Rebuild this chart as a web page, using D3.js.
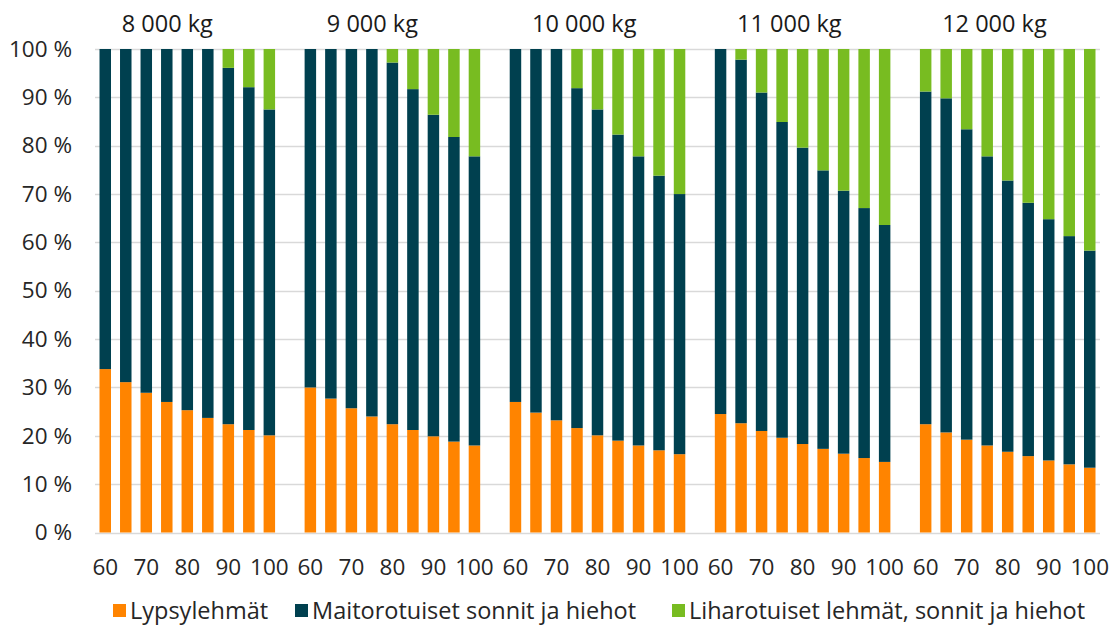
<!DOCTYPE html>
<html><head><meta charset="utf-8">
<script src="https://cdn.jsdelivr.net/npm/d3@7"></script>
<style>
body{margin:0;background:#fff;}
svg{font-family:"Open Sans","Noto Sans",sans-serif;}
</style></head>
<body><svg id="c" width="1114" height="628"></svg>
<script>
const groups = ["8 000 kg","9 000 kg","10 000 kg","11 000 kg","12 000 kg"];
const categories = ["60","65","70","75","80","85","90","95","100"];
const tickLabels = ["60","70","80","90","100"];
const seriesNames = ["Lypsylehmät","Maitorotuiset sonnit ja hiehot","Liharotuiset lehmät, sonnit ja hiehot"];
// shares in %, one row per group, one value per category
const lypsylehmat = [
  [33.8,31.1,28.9,27.0,25.3,23.7,22.4,21.2,20.1],
  [30.0,27.7,25.7,24.0,22.4,21.2,19.9,18.8,18.0],
  [27.0,24.8,23.2,21.6,20.1,19.0,18.0,17.0,16.2],
  [24.5,22.6,21.0,19.6,18.3,17.3,16.3,15.4,14.6],
  [22.4,20.7,19.2,18.0,16.7,15.8,14.9,14.1,13.4]
];
const maitorotuiset = [
  [66.2,68.9,71.1,73.0,74.7,76.3,73.7,70.9,67.4],
  [70.0,72.3,74.3,76.0,74.8,70.5,66.5,63.0,59.8],
  [73.0,75.2,76.8,70.3,67.4,63.3,59.8,56.8,53.8],
  [75.5,75.2,70.0,65.3,61.3,57.6,54.4,51.7,49.0],
  [68.8,69.1,64.2,59.8,56.1,52.4,49.9,47.2,44.9]
];
const liharotuiset = [
  [0,0,0,0,0,0,3.9,7.9,12.5],
  [0,0,0,0,2.8,8.3,13.6,18.2,22.2],
  [0,0,0,8.1,12.5,17.7,22.2,26.2,30.0],
  [0,2.2,9.0,15.1,20.4,25.1,29.3,32.9,36.4],
  [8.8,10.2,16.6,22.2,27.2,31.8,35.2,38.7,41.7]
];
const yTicks = [0,10,20,30,40,50,60,70,80,90,100];
const colors = ["#ff8400","#00404f","#78bc21"];

const svg = d3.select("#c");
const M = {l:95, r:1100, t:49, b:532.5};

// x domain: slots, with one empty slot between groups
const keys = [];
groups.forEach((g,gi)=>{
  categories.forEach(c=>keys.push(gi+"|"+c));
  if (gi < groups.length-1) keys.push("gap"+gi);
});
const x = d3.scaleBand().domain(keys).range([M.l,M.r]).paddingInner(0.44).paddingOuter(0.22);
const y = d3.scaleLinear().domain([0,100]).range([M.b,M.t]);

// gridlines
svg.append("g").selectAll("line").data(yTicks).join("line")
  .attr("x1",M.l).attr("x2",M.r)
  .attr("y1",d=>Math.round(y(d))+0.5).attr("y2",d=>Math.round(y(d))+0.5)
  .attr("stroke","#d9d9d9").attr("stroke-width",1.3);

// y axis labels
const yAxis = d3.axisLeft(y).tickValues(yTicks).tickFormat(d=>d+" %").tickSize(0).tickPadding(0);
const ya = svg.append("g").attr("transform",`translate(${72},0)`).call(yAxis);
ya.select(".domain").remove();
ya.selectAll("text").attr("font-size",22.5).attr("fill","#262626").attr("font-family","'Open Sans',sans-serif");

// data rows
const rows = [];
groups.forEach((g,gi)=>categories.forEach((c,ci)=>{
  rows.push({key:gi+"|"+c, v:[lypsylehmat[gi][ci], maitorotuiset[gi][ci], liharotuiset[gi][ci]]});
}));
const stack = d3.stack().keys([0,1,2]).value((d,k)=>d.v[k]);
const stacked = stack(rows);
svg.append("g").selectAll("g").data(stacked).join("g")
  .attr("fill",(d,i)=>colors[i])
  .selectAll("rect").data(d=>d.filter(s=>s[1]-s[0]>0)).join("rect")
  .attr("x",d=>x(d.data.key)).attr("width",x.bandwidth())
  .attr("y",d=>y(d[1])).attr("height",d=>y(d[0])-y(d[1]));

// x axis
const tickKeys = [];
groups.forEach((g,gi)=>tickLabels.forEach(t=>tickKeys.push(gi+"|"+t)));
const xAxis = d3.axisBottom(x).tickValues(tickKeys).tickFormat(d=>d.split("|")[1]).tickSize(0).tickPadding(0);
const xa = svg.append("g").attr("transform",`translate(0,${559})`).call(xAxis);
xa.select(".domain").remove();
xa.selectAll("text").attr("font-size",22.5).attr("fill","#262626").attr("font-family","'Open Sans',sans-serif");

// group titles
svg.append("g").selectAll("text").data(groups).join("text")
  .attr("x",(d,gi)=>x(gi+"|65")+x.bandwidth()/2-4)
  .attr("y",32).attr("font-size",23.5).attr("fill","#1a1a1a").text(d=>d);

// legend
const legX = [113, 295, 672];
const lg = svg.append("g").selectAll("g").data(seriesNames).join("g")
  .attr("transform",(d,i)=>`translate(${legX[i]},604)`);
lg.append("rect").attr("width",13).attr("height",13).attr("fill",(d,i)=>colors[i]);
lg.append("text").attr("x",17).attr("y",15).attr("font-size",23.5).attr("fill","#262626").text(d=>d);
</script></body></html>
